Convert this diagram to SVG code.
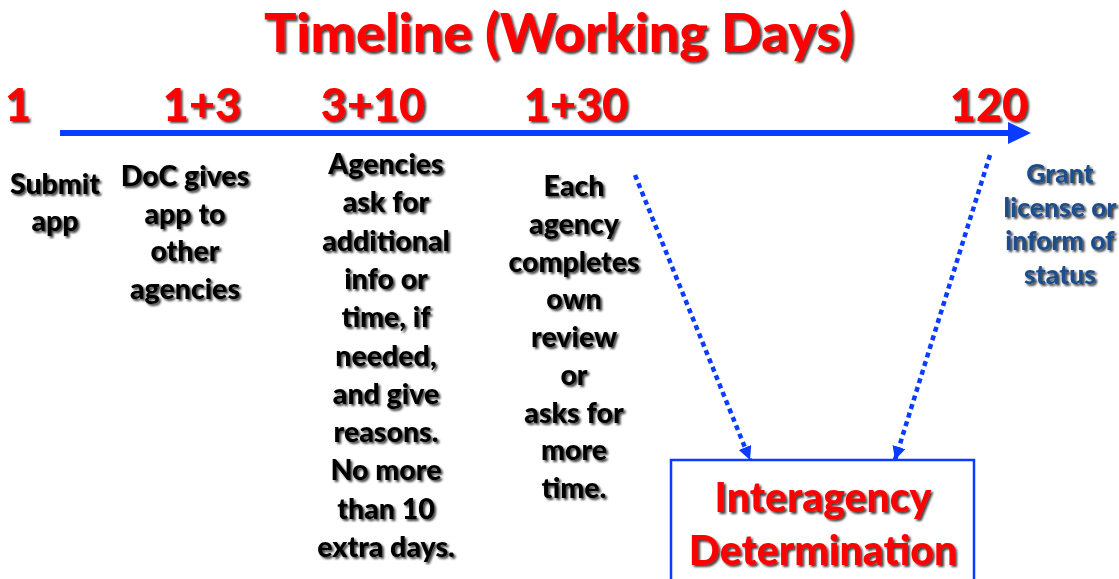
<svg xmlns="http://www.w3.org/2000/svg" width="1119" height="579" viewBox="0 0 1119 579">
<style>
.t{font-family:Lato,"Open Sans","Liberation Sans",sans-serif;font-weight:900;text-anchor:middle}
.red{fill:#FF0000}
.blk{fill:#000000}
.dk{fill:#1F4E8C}
.title{font-size:54px}
.num{font-size:45px}
.body{font-size:28.5px}
.small{font-size:26.5px}
.big{font-size:41px}
.dot{fill:none;stroke:#0A3CFF;stroke-width:4.5;stroke-dasharray:5 4}
</style>
<defs>
<filter id="sh" x="-10%" y="-20%" width="130%" height="150%">
<feDropShadow dx="2" dy="2" stdDeviation="1.2" flood-color="#000" flood-opacity="0.75"/>
</filter>
<marker id="ah" viewBox="0 0 10 10" refX="10" refY="5" markerWidth="3" markerHeight="3" orient="auto" markerUnits="strokeWidth">
<path d="M0,0 L10,5 L0,10 Z" fill="#0A3CFF"/>
</marker>
</defs>
<g id="title" filter="url(#sh)"><text class="t red title" x="559" y="52">Timeline (Working Days)</text></g>
<g id="day-labels" filter="url(#sh)">
<text class="t red num" x="18" y="121">1</text>
<text class="t red num" x="202" y="121">1+3</text>
<text class="t red num" x="373" y="121">3+10</text>
<text class="t red num" x="576" y="121">1+30</text>
<text class="t red num" x="989" y="121">120</text>
</g>
<g id="connectors">
<line x1="60" y1="133" x2="1012" y2="133" stroke="#0A3CFF" stroke-width="6"/>
<path d="M1008,122 L1031,133 L1008,144 Z" fill="#0A3CFF"/>
<line class="dot" x1="635" y1="175" x2="750" y2="460" marker-end="url(#ah)"/>
<line class="dot" x1="990" y1="155" x2="895" y2="460" marker-end="url(#ah)"/>
</g>
<g id="submit" filter="url(#sh)">
<text class="t blk body" x="55" y="194">Submit</text>
<text class="t blk body" x="55" y="231">app</text>
</g>
<g id="doc" filter="url(#sh)">
<text class="t blk body" x="185" y="186">DoC gives</text>
<text class="t blk body" x="185" y="223.5">app to</text>
<text class="t blk body" x="185" y="261">other</text>
<text class="t blk body" x="185" y="298.5">agencies</text>
</g>
<g id="agencies" filter="url(#sh)">
<text class="t blk body" x="386" y="174">Agencies</text>
<text class="t blk body" x="386" y="212.3">ask for</text>
<text class="t blk body" x="386" y="250.6">additional</text>
<text class="t blk body" x="386" y="288.9">info or</text>
<text class="t blk body" x="386" y="327.2">time, if</text>
<text class="t blk body" x="386" y="365.5">needed,</text>
<text class="t blk body" x="386" y="403.8">and give</text>
<text class="t blk body" x="386" y="442.1">reasons.</text>
<text class="t blk body" x="386" y="480.4">No more</text>
<text class="t blk body" x="386" y="518.7">than 10</text>
<text class="t blk body" x="386" y="557">extra days.</text>
</g>
<g id="each" filter="url(#sh)">
<text class="t blk body" x="574" y="196">Each</text>
<text class="t blk body" x="574" y="233.8">agency</text>
<text class="t blk body" x="574" y="271.5">completes</text>
<text class="t blk body" x="574" y="309.3">own</text>
<text class="t blk body" x="574" y="347">review</text>
<text class="t blk body" x="574" y="384.8">or</text>
<text class="t blk body" x="574" y="422.5">asks for</text>
<text class="t blk body" x="574" y="460.3">more</text>
<text class="t blk body" x="574" y="498">time.</text>
</g>
<g id="grant" filter="url(#sh)">
<text class="t dk small" x="1060" y="183">Grant</text>
<text class="t dk small" x="1060" y="217">license or</text>
<text class="t dk small" x="1060" y="250">inform of</text>
<text class="t dk small" x="1060" y="284">status</text>
</g>
<g id="interagency">
<rect x="671" y="460" width="303" height="140" fill="#fff" stroke="#0A3CFF" stroke-width="2.5"/>
<g filter="url(#sh)">
<text class="t red big" x="823" y="512">Interagency</text>
<text class="t red big" x="823" y="565">Determination</text>
</g>
</g>
</svg>
